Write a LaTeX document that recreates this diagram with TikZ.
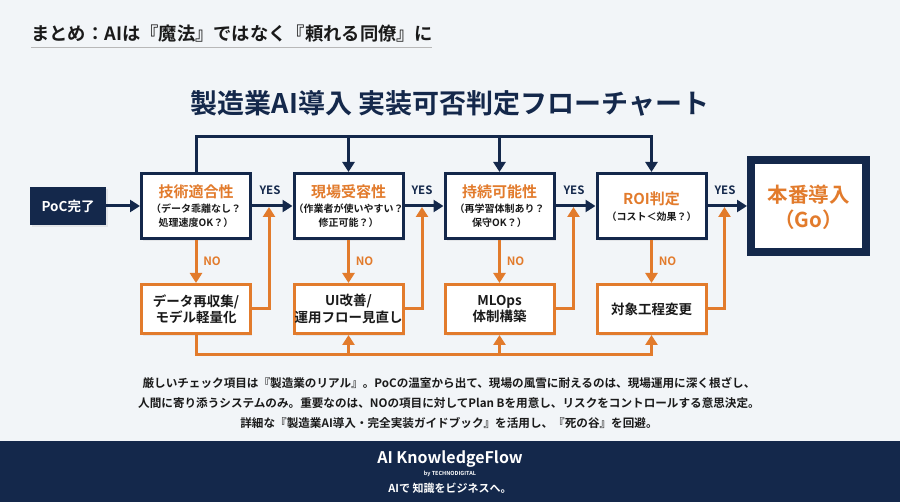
\documentclass[tikz,border=0pt]{standalone}
\usepackage{fontspec}
\setmainfont{Noto Sans CJK JP}[BoldFont={Noto Sans CJK JP Bold}]
\usetikzlibrary{arrows.meta,shadows}
\definecolor{navy}{HTML}{14284B}
\definecolor{org}{HTML}{E27B2C}
\definecolor{bg}{HTML}{F2F5F8}
\definecolor{ink}{HTML}{1A1A1A}
\newcommand{\fs}[2]{\fontsize{#1}{#2}\selectfont}
\begin{document}
\begin{tikzpicture}[x=1pt,y=-1pt,
  shd/.style={drop shadow={opacity=0.13,shadow xshift=1.5pt,shadow yshift=-2.5pt}},
  nbox/.style={draw=navy,line width=3pt,fill=white,minimum width=109pt,minimum height=65pt,inner sep=0pt,shd},
  obox/.style={draw=org,line width=3pt,fill=white,minimum width=109pt,minimum height=49pt,inner sep=0pt,align=center,text=ink,font=\bfseries\fs{13.5}{16.5},shd},
  ttl/.style={text=org,font=\bfseries\fs{15}{18},inner sep=0pt},
  subt/.style={text=ink,font=\bfseries\fs{10}{14},align=center,inner sep=0pt},
  narr/.style={draw=navy,line width=3pt,line join=miter,-{Triangle[length=10pt,width=12pt]}},
  oarr/.style={draw=org,line width=3pt,line join=miter,-{Triangle[length=10pt,width=12pt]}},
  yes/.style={text=navy,font=\bfseries\fs{11.5}{13},inner sep=0pt},
  no/.style={text=org,font=\bfseries\fs{11.5}{13},inner sep=0pt}]
\fill[bg] (0,0) rectangle (900,502);
\useasboundingbox (0,0) rectangle (900,502);

% header
\node[anchor=west,text=ink,font=\bfseries\fs{18.3}{22},inner sep=0pt] (head) at (31,34) {まとめ：AIは『魔法』ではなく『頼れる同僚』に};
\draw[color=black!28,line width=1pt] (31,48) -- (432,48);

% main title
\node[text=navy,font=\bfseries\fs{27}{30},inner sep=0pt] (title) at (450,103) {製造業AI導入 実装可否判定フローチャート};

% PoC
\node[fill=navy,minimum width=76pt,minimum height=38pt,inner sep=0pt,text=white,font=\bfseries\fs{13.5}{16},shd] (poc) at (68,206) {PoC完了};

% decision boxes
\node[nbox] (b1) at (196,206) {};
\node[nbox] (b2) at (348.5,206) {};
\node[nbox] (b3) at (499.5,206) {};
\node[nbox] (b4) at (651.5,206) {};
\node[draw=navy,line width=8pt,fill=white,minimum width=115pt,minimum height=92pt,inner sep=0pt,shd] (b5) at (808.5,206) {};

\node[ttl] (t1) at (196,192) {技術適合性};
\node[subt] (s1) at (196,216) {（データ乖離なし？\\処理速度OK？）};
\node[ttl] (t2) at (348.5,192) {現場受容性};
\node[subt] (s2) at (348.5,216) {（作業者が使いやすい？\\修正可能？）};
\node[ttl] (t3) at (499.5,192) {持続可能性};
\node[subt] (s3) at (499.5,216) {（再学習体制あり？\\保守OK？）};
\node[ttl] (t4) at (651.5,199) {ROI判定};
\node[subt] (s4) at (651.5,217) {（コスト＜効果？）};
\node[text=org,font=\bfseries\fs{20.5}{25},align=center,inner sep=0pt] (t5) at (808.5,207) {本番導入\\（Go）};

% remedy boxes
\node[obox] (o1) at (196,309) {データ再収集/\\モデル軽量化};
\node[obox] (o2) at (348.5,309) {UI改善/\\運用フロー見直し};
\node[obox] (o3) at (499.5,309) {MLOps\\体制構築};
\node[obox] (o4) at (651.5,309) {対象工程変更};

% YES arrows
\draw[narr] (poc) -- (b1);
\draw[narr] (b1) -- (b2);
\draw[narr] (b2) -- (b3);
\draw[narr] (b3) -- (b4);
\draw[narr] (b4) -- (b5);
\node[yes] (y1) at (270,190) {YES};
\node[yes] (y2) at (422,190) {YES};
\node[yes] (y3) at (574,190) {YES};
\node[yes] (y4) at (725,190) {YES};

% NO arrows
\draw[oarr] (b1) -- (o1);
\draw[oarr] (b2) -- (o2);
\draw[oarr] (b3) -- (o3);
\draw[oarr] (b4) -- (o4);
\node[no] (n1) at (212,261) {NO};
\node[no] (n2) at (364.5,261) {NO};
\node[no] (n3) at (515.5,261) {NO};
\node[no] (n4) at (667.5,261) {NO};

% return arrows
\coordinate (r1) at (269,207);
\coordinate (r2) at (422,207);
\coordinate (r3) at (573.5,207);
\coordinate (r4) at (724.5,207);
\draw[oarr] (o1.east) -| (r1);
\draw[oarr] (o2.east) -| (r2);
\draw[oarr] (o3.east) -| (r3);
\draw[oarr] (o4.east) -| (r4);

% top loop
\coordinate (p1) at (196,137);
\coordinate (p2) at (348.5,137);
\coordinate (p3) at (499.5,137);
\coordinate (p4) at (651.5,137);
\draw[narr] (b1.north) -- (p1) -- (p4) -- (b4.north);
\draw[narr] (p2) -- (b2.north);
\draw[narr] (p3) -- (b3.north);

% bottom loop
\coordinate (u1) at (196,355);
\coordinate (u2) at (348.5,355);
\coordinate (u3) at (499.5,355);
\coordinate (u4) at (651.5,355);
\draw[oarr] (o1.south) -- (u1) -- (u4) -- (o4.south);
\draw[oarr] (u2) -- (o2.south);
\draw[oarr] (u3) -- (o3.south);

% note text
\node[text=ink,font=\bfseries\fs{11.6}{20},align=center,inner sep=0pt] (note) at (449,403) {厳しいチェック項目は『製造業のリアル』。PoCの温室から出て、現場の風雪に耐えるのは、現場運用に深く根ざし、\\人間に寄り添うシステムのみ。重要なのは、NOの項目に対してPlan Bを用意し、リスクをコントロールする意思決定。\\詳細な『製造業AI導入・完全実装ガイドブック』を活用し、『死の谷』を回避。};

% footer
\fill[navy] (0,441) rectangle (900,502);
\node[text=white,font=\bfseries\fs{16}{18},inner sep=0pt] (brand) at (450,459) {AI KnowledgeFlow};
\node[text=white,font=\bfseries\fs{5.5}{6},inner sep=0pt] (by) at (450,474) {by TECHNODIGITAL};
\node[text=white,font=\bfseries\fs{11}{13},inner sep=0pt] (tag) at (450,488) {AIで 知識をビジネスへ。};
\end{tikzpicture}
\end{document}
